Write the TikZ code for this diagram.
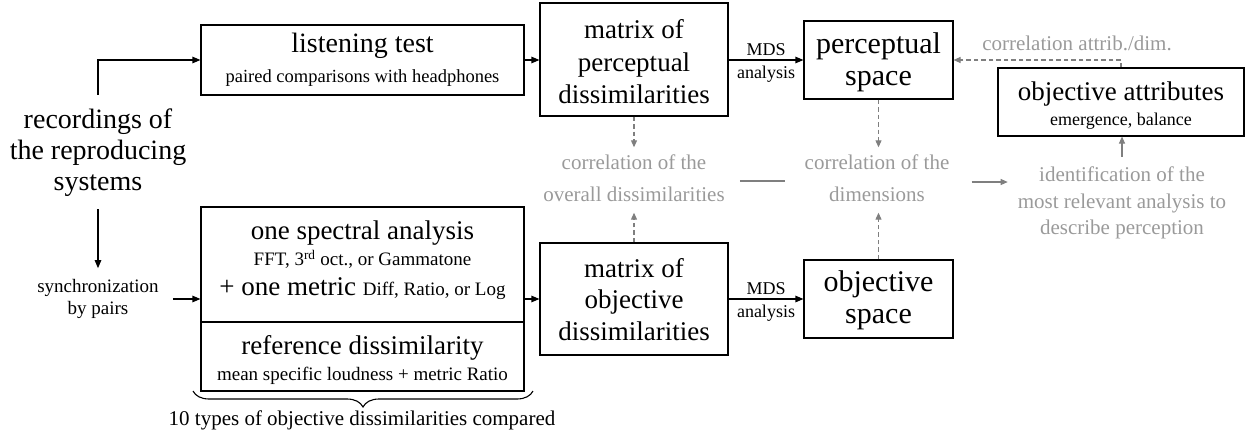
\documentclass[tikz,border=0pt]{standalone}
\usepackage{fontspec}
\setmainfont{Liberation Serif}
\usetikzlibrary{arrows.meta,decorations.pathreplacing}
\definecolor{gtext}{HTML}{9A9A9A}
\definecolor{garrow}{HTML}{7F7F7F}
\newcommand{\fs}[2]{\fontsize{#1}{#2}\selectfont}
\newcommand{\tallstrut}[1]{\rule{0pt}{#1}}
\begin{document}
\begin{tikzpicture}[x=1pt,y=-1pt,
  box/.style={draw, line width=1.1pt, inner sep=0pt, align=center},
  txt/.style={inner sep=0pt, align=center},
  arr/.style={line width=1.1pt, -{Triangle[length=8pt,width=6.5pt]}},
  gdash/.style={draw=garrow, line width=1.1pt, dash pattern=on 4.5pt off 3pt, -{Triangle[length=7pt,width=6pt]}},
  gsolid/.style={draw=garrow, line width=1.1pt, -{Triangle[length=7pt,width=6pt]}},
  gline/.style={draw=garrow, line width=1.1pt},
  gtxt/.style={text=gtext, align=center, inner sep=0pt},
  lbl/.style={inner sep=0pt, font=\fs{18}{20}},
]
\useasboundingbox (0,0) rectangle (1247,439);

% boxes
\node[box, minimum width=323pt, minimum height=70pt, font=\fs{28}{30}] (lt) at (362.5,60)
  {listening test\\{\fs{18.5}{30}paired comparisons with headphones}};
\node[box, minimum width=188pt, minimum height=113pt, font=\fs{27}{32.5}] (mp) at (634,59.5)
  {\tallstrut{24pt}matrix of\\perceptual\\dissimilarities};
\node[box, minimum width=149pt, minimum height=78pt, font=\fs{30}{31.5}] (ps) at (878.5,60)
  {\tallstrut{25.5pt}perceptual\\space};
\node[box, minimum width=246pt, minimum height=68pt, font=\fs{27}{25}] (oa) at (1121,102)
  {\tallstrut{26pt}objective attributes\\{\fs{18}{25}emergence, balance}};
\node[box, minimum width=188pt, minimum height=112pt, font=\fs{27}{31.5}] (mo) at (634,299)
  {\tallstrut{20pt}matrix of\\objective\\dissimilarities};
\node[box, minimum width=149pt, minimum height=78pt, font=\fs{30}{32}] (os) at (878.5,299)
  {\tallstrut{23pt}objective\\space};
\node[box, minimum width=323pt, minimum height=184pt] (lb) at (362.5,299) {};
\coordinate (div) at (362.5,322);
\draw[line width=1.1pt] (lb.west |- div) -- (lb.east |- div);
\node[txt, font=\fs{27}{26}] (spec) at (362.5,260.4)
  {one spectral analysis\\{\fs{19}{26}FFT, 3\textsuperscript{rd} oct., or Gammatone}\\[4pt]+ one metric {\fs{19}{26}Diff, Ratio, or Log}};
\node[txt, font=\fs{27}{26}] (ref) at (362.5,359.6)
  {reference dissimilarity\\{\fs{19}{26}mean specific loudness + metric Ratio}};

% left texts
\node[txt, font=\fs{28}{31}] (rec) at (98,153) {recordings of\\the reproducing\\systems};
\node[txt, font=\fs{19}{22}] (sync) at (98,299) {synchronization\\by pairs};

% gray texts
\node[gtxt, font=\fs{21}{32}] (gc1) at (634,178) {correlation of the\\overall dissimilarities};
\node[gtxt, font=\fs{21}{32}] (gc2) at (877,178) {correlation of the\\dimensions};
\node[gtxt, font=\fs{21}{26.5}] (gid) at (1122,203) {identification of the\\most relevant analysis to\\describe perception};
\node[gtxt, font=\fs{21}{24}] (gattr) at (1077,43) {correlation attrib./dim.};

% black connectors
\draw[arr, shorten <=14pt] (rec.north) |- (lt.west);
\draw[arr, shorten <=12pt, shorten >=11pt] (rec.south) -- (sync.north);
\draw[arr, shorten <=14pt] (sync.east) -- (lb.west);
\draw[arr] (lt.east) -- (lt.east -| mp.west);
\draw[arr] (mp.east |- ps.west) -- (ps.west)
  node[lbl, midway, above=3.5pt] (mds1) {MDS}
  node[lbl, midway, below=5.5pt] (an1) {analysis};
\draw[arr] (lb.east) -- (mo.west);
\draw[arr] (mo.east) -- (os.west)
  node[lbl, midway, above=3.5pt] (mds2) {MDS}
  node[lbl, midway, below=5.5pt] (an2) {analysis};

% gray connectors
\draw[gdash, shorten >=7pt] (mp.south) -- (mp.south |- gc1.north);
\draw[gdash, shorten >=11pt] (mo.north) -- (mo.north |- gc1.south);
\draw[gdash, shorten >=7pt] (ps.south) -- (ps.south |- gc2.north);
\draw[gdash, shorten >=11pt] (os.north) -- (os.north |- gc2.south);
\draw[gline, shorten <=15pt, shorten >=20pt] ([yshift=-3pt]gc1.east) -- ([yshift=-3pt]gc2.west);
\draw[gsolid, shorten <=22pt, shorten >=10pt] ([yshift=-4pt]gc2.east) -- ([yshift=-4pt]gc2.east -| gid.west);
\draw[gsolid, shorten <=10pt] (gid.north) -- (gid.north |- oa.south);
\draw[gdash] (oa.north) |- (ps.east);

% brace
\coordinate (bl) at (193,391);
\coordinate (br) at (533,391);
\draw[line width=1.1pt, decorate, decoration={brace, mirror, amplitude=16pt}] (bl) -- (br);
\node[txt, font=\fs{21}{24}] (btxt) at (362,420) {10 types of objective dissimilarities compared};
\end{tikzpicture}
\end{document}
